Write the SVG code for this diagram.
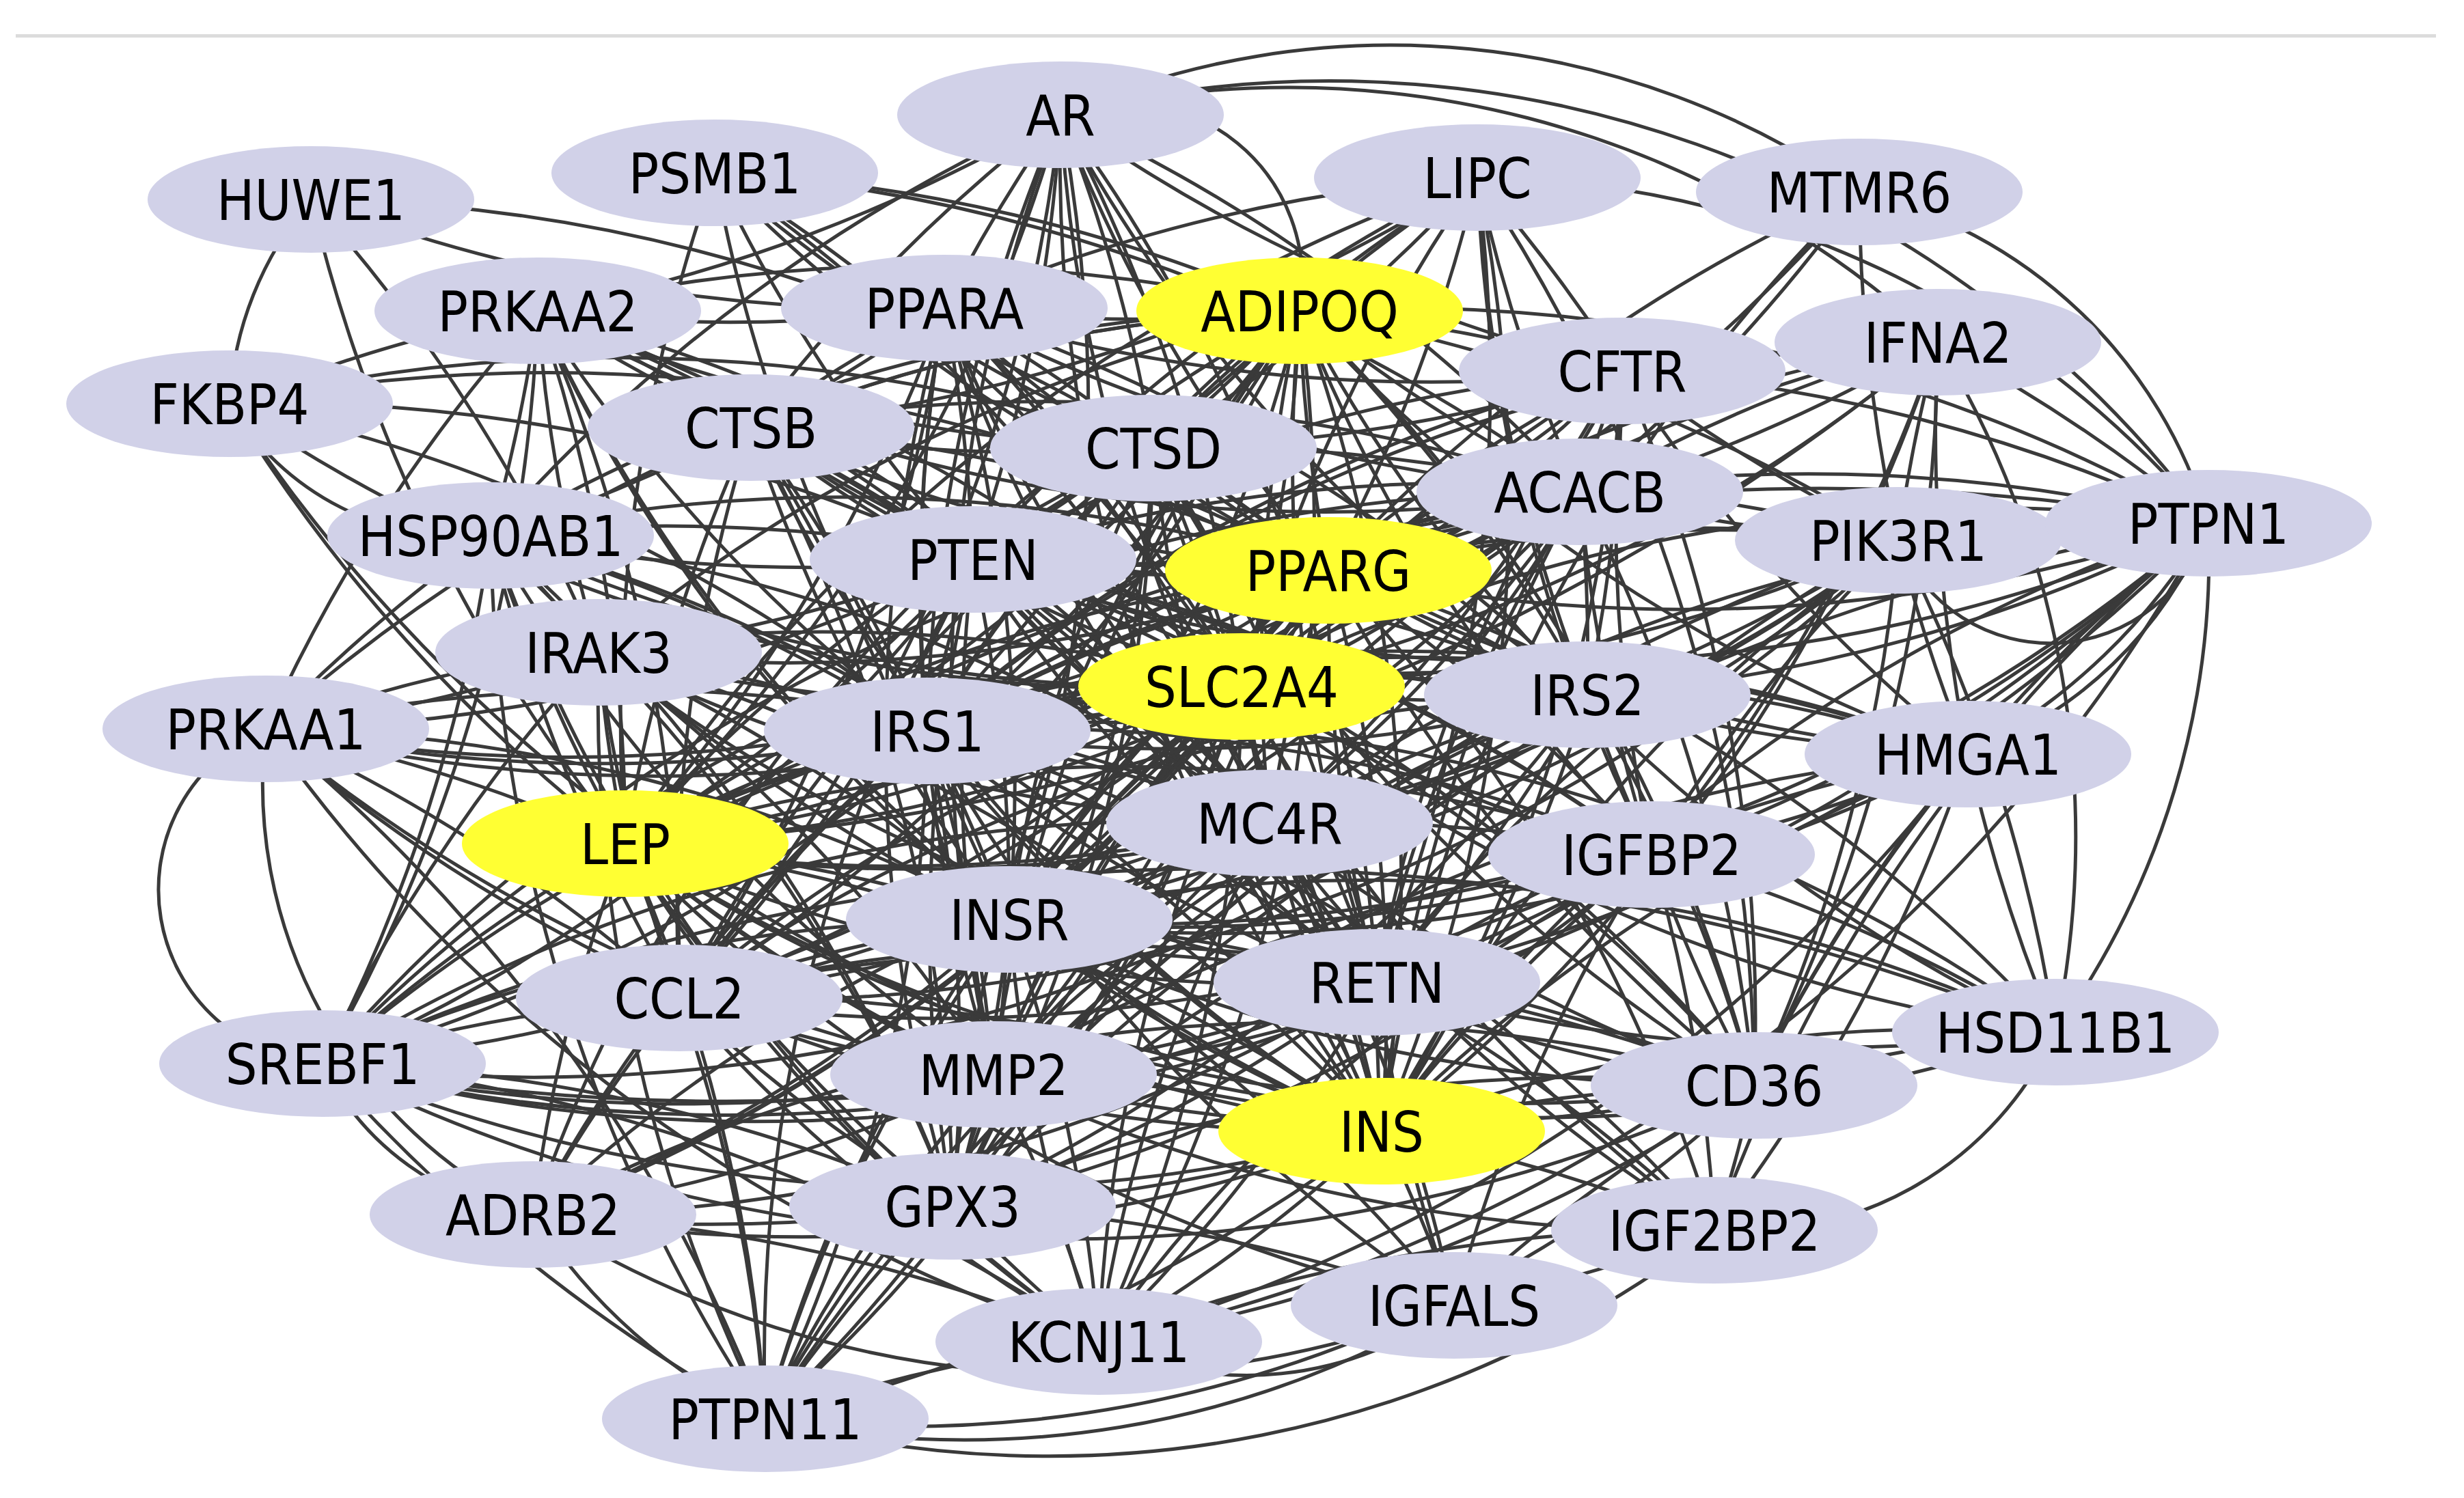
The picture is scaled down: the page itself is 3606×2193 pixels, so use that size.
<svg xmlns="http://www.w3.org/2000/svg" width="3606" height="2193" viewBox="0 0 3606 2193">
<style>
#edges path{fill:none;stroke:#3a3a3a;stroke-width:5}
.n ellipse{fill:#d1d1e8}
.y ellipse{fill:#ffff33}
text{font-family:"DejaVu Sans Condensed","Liberation Sans Narrow","Liberation Sans",sans-serif;font-size:82px;fill:#000;text-anchor:middle}
</style>
<rect width="3606" height="2193" fill="#fff"/>
<rect x="23" y="50" width="3542" height="5" fill="#dcdcdc"/>
<g id="edges">
<path d="M1382 451A2400 2400 0 0 0 1902 455"/>
<path d="M1382 451A2400 2400 0 0 1 1688 656"/>
<path d="M1382 451A2400 2400 0 0 0 1099 626"/>
<path d="M1382 451A2400 2400 0 0 1 1424 819"/>
<path d="M1382 451A2400 2400 0 0 0 1944 835"/>
<path d="M1382 451A2400 2400 0 0 1 1817 1005"/>
<path d="M1382 451A2400 2400 0 0 0 1357 1070"/>
<path d="M1382 451A2400 2400 0 0 1 915 1235"/>
<path d="M1382 451A2400 2400 0 0 0 1858 1205"/>
<path d="M1382 451A2400 2400 0 0 1 1477 1346"/>
<path d="M1382 451A2400 2400 0 0 0 2015 1438"/>
<path d="M1382 451A2400 2400 0 0 1 994 1461"/>
<path d="M1382 451A2400 2400 0 0 0 1454 1573"/>
<path d="M1382 451A2400 2400 0 0 1 2022 1656"/>
<path d="M1382 451A2400 2400 0 0 0 1394 1766"/>
<path d="M1382 451A2400 2400 0 0 1 2323 1017"/>
<path d="M1382 451A2400 2400 0 0 0 2312 720"/>
<path d="M1902 455A2400 2400 0 0 1 1688 656"/>
<path d="M1902 455A2400 2400 0 0 0 1099 626"/>
<path d="M1902 455A2400 2400 0 0 1 1424 819"/>
<path d="M1902 455A2400 2400 0 0 0 1944 835"/>
<path d="M1902 455A2400 2400 0 0 1 1817 1005"/>
<path d="M1902 455A2400 2400 0 0 0 1357 1070"/>
<path d="M1902 455A2400 2400 0 0 1 915 1235"/>
<path d="M1902 455A2400 2400 0 0 0 1858 1205"/>
<path d="M1902 455A2400 2400 0 0 1 1477 1346"/>
<path d="M1902 455A2400 2400 0 0 0 2015 1438"/>
<path d="M1902 455A2400 2400 0 0 1 994 1461"/>
<path d="M1902 455A2400 2400 0 0 0 1454 1573"/>
<path d="M1902 455A2400 2400 0 0 1 2022 1656"/>
<path d="M1902 455A2400 2400 0 0 0 1394 1766"/>
<path d="M1902 455A2400 2400 0 0 1 2323 1017"/>
<path d="M1902 455A2400 2400 0 0 0 2312 720"/>
<path d="M1688 656A2400 2400 0 0 1 1099 626"/>
<path d="M1688 656A2400 2400 0 0 0 1424 819"/>
<path d="M1688 656A2400 2400 0 0 1 1944 835"/>
<path d="M1688 656A2400 2400 0 0 0 1817 1005"/>
<path d="M1688 656A2400 2400 0 0 1 1357 1070"/>
<path d="M1688 656A2400 2400 0 0 0 915 1235"/>
<path d="M1688 656A2400 2400 0 0 1 1858 1205"/>
<path d="M1688 656A2400 2400 0 0 0 1477 1346"/>
<path d="M1688 656A2400 2400 0 0 1 2015 1438"/>
<path d="M1688 656A2400 2400 0 0 0 994 1461"/>
<path d="M1688 656A2400 2400 0 0 1 1454 1573"/>
<path d="M1688 656A2400 2400 0 0 0 2022 1656"/>
<path d="M1688 656A2400 2400 0 0 1 1394 1766"/>
<path d="M1688 656A2400 2400 0 0 0 2323 1017"/>
<path d="M1688 656A2400 2400 0 0 1 2312 720"/>
<path d="M1099 626A2400 2400 0 0 0 1424 819"/>
<path d="M1099 626A2400 2400 0 0 1 1944 835"/>
<path d="M1099 626A2400 2400 0 0 0 1817 1005"/>
<path d="M1099 626A2400 2400 0 0 1 1357 1070"/>
<path d="M1099 626A2400 2400 0 0 0 915 1235"/>
<path d="M1099 626A2400 2400 0 0 1 1858 1205"/>
<path d="M1099 626A2400 2400 0 0 0 1477 1346"/>
<path d="M1099 626A2400 2400 0 0 1 2015 1438"/>
<path d="M1099 626A2400 2400 0 0 0 994 1461"/>
<path d="M1099 626A2400 2400 0 0 1 1454 1573"/>
<path d="M1099 626A2400 2400 0 0 0 2022 1656"/>
<path d="M1099 626A2400 2400 0 0 1 1394 1766"/>
<path d="M1099 626A2400 2400 0 0 0 2323 1017"/>
<path d="M1099 626A2400 2400 0 0 1 2312 720"/>
<path d="M1424 819A2400 2400 0 0 0 1944 835"/>
<path d="M1424 819A2400 2400 0 0 1 1817 1005"/>
<path d="M1424 819A2400 2400 0 0 0 1357 1070"/>
<path d="M1424 819A2400 2400 0 0 1 915 1235"/>
<path d="M1424 819A2400 2400 0 0 0 1858 1205"/>
<path d="M1424 819A2400 2400 0 0 1 1477 1346"/>
<path d="M1424 819A2400 2400 0 0 0 2015 1438"/>
<path d="M1424 819A2400 2400 0 0 1 994 1461"/>
<path d="M1424 819A2400 2400 0 0 0 1454 1573"/>
<path d="M1424 819A2400 2400 0 0 1 2022 1656"/>
<path d="M1424 819A2400 2400 0 0 0 1394 1766"/>
<path d="M1424 819A2400 2400 0 0 1 2323 1017"/>
<path d="M1424 819A2400 2400 0 0 0 2312 720"/>
<path d="M1944 835A2400 2400 0 0 1 1817 1005"/>
<path d="M1944 835A2400 2400 0 0 0 1357 1070"/>
<path d="M1944 835A2400 2400 0 0 1 915 1235"/>
<path d="M1944 835A2400 2400 0 0 0 1858 1205"/>
<path d="M1944 835A2400 2400 0 0 1 1477 1346"/>
<path d="M1944 835A2400 2400 0 0 0 2015 1438"/>
<path d="M1944 835A2400 2400 0 0 1 994 1461"/>
<path d="M1944 835A2400 2400 0 0 0 1454 1573"/>
<path d="M1944 835A2400 2400 0 0 1 2022 1656"/>
<path d="M1944 835A2400 2400 0 0 0 1394 1766"/>
<path d="M1944 835A2400 2400 0 0 1 2323 1017"/>
<path d="M1944 835A2400 2400 0 0 0 2312 720"/>
<path d="M1817 1005A2400 2400 0 0 1 1357 1070"/>
<path d="M1817 1005A2400 2400 0 0 0 915 1235"/>
<path d="M1817 1005A2400 2400 0 0 1 1858 1205"/>
<path d="M1817 1005A2400 2400 0 0 0 1477 1346"/>
<path d="M1817 1005A2400 2400 0 0 1 2015 1438"/>
<path d="M1817 1005A2400 2400 0 0 0 994 1461"/>
<path d="M1817 1005A2400 2400 0 0 1 1454 1573"/>
<path d="M1817 1005A2400 2400 0 0 0 2022 1656"/>
<path d="M1817 1005A2400 2400 0 0 1 1394 1766"/>
<path d="M1817 1005A2400 2400 0 0 0 2323 1017"/>
<path d="M1817 1005A2400 2400 0 0 1 2312 720"/>
<path d="M1357 1070A2400 2400 0 0 0 915 1235"/>
<path d="M1357 1070A2400 2400 0 0 1 1858 1205"/>
<path d="M1357 1070A2400 2400 0 0 0 1477 1346"/>
<path d="M1357 1070A2400 2400 0 0 1 2015 1438"/>
<path d="M1357 1070A2400 2400 0 0 0 994 1461"/>
<path d="M1357 1070A2400 2400 0 0 1 1454 1573"/>
<path d="M1357 1070A2400 2400 0 0 0 2022 1656"/>
<path d="M1357 1070A2400 2400 0 0 1 1394 1766"/>
<path d="M1357 1070A2400 2400 0 0 0 2323 1017"/>
<path d="M1357 1070A2400 2400 0 0 1 2312 720"/>
<path d="M915 1235A2400 2400 0 0 0 1858 1205"/>
<path d="M915 1235A2400 2400 0 0 1 1477 1346"/>
<path d="M915 1235A2400 2400 0 0 0 2015 1438"/>
<path d="M915 1235A2400 2400 0 0 1 994 1461"/>
<path d="M915 1235A2400 2400 0 0 0 1454 1573"/>
<path d="M915 1235A2400 2400 0 0 1 2022 1656"/>
<path d="M915 1235A2400 2400 0 0 0 1394 1766"/>
<path d="M915 1235A2400 2400 0 0 1 2323 1017"/>
<path d="M915 1235A2400 2400 0 0 0 2312 720"/>
<path d="M1858 1205A2400 2400 0 0 1 1477 1346"/>
<path d="M1858 1205A2400 2400 0 0 0 2015 1438"/>
<path d="M1858 1205A2400 2400 0 0 1 994 1461"/>
<path d="M1858 1205A2400 2400 0 0 0 1454 1573"/>
<path d="M1858 1205A2400 2400 0 0 1 2022 1656"/>
<path d="M1858 1205A2400 2400 0 0 0 1394 1766"/>
<path d="M1858 1205A2400 2400 0 0 1 2323 1017"/>
<path d="M1858 1205A2400 2400 0 0 0 2312 720"/>
<path d="M1477 1346A2400 2400 0 0 1 2015 1438"/>
<path d="M1477 1346A2400 2400 0 0 0 994 1461"/>
<path d="M1477 1346A2400 2400 0 0 1 1454 1573"/>
<path d="M1477 1346A2400 2400 0 0 0 2022 1656"/>
<path d="M1477 1346A2400 2400 0 0 1 1394 1766"/>
<path d="M1477 1346A2400 2400 0 0 0 2323 1017"/>
<path d="M1477 1346A2400 2400 0 0 1 2312 720"/>
<path d="M2015 1438A2400 2400 0 0 0 994 1461"/>
<path d="M2015 1438A2400 2400 0 0 1 1454 1573"/>
<path d="M2015 1438A2400 2400 0 0 0 2022 1656"/>
<path d="M2015 1438A2400 2400 0 0 1 1394 1766"/>
<path d="M2015 1438A2400 2400 0 0 0 2323 1017"/>
<path d="M2015 1438A2400 2400 0 0 1 2312 720"/>
<path d="M994 1461A2400 2400 0 0 0 1454 1573"/>
<path d="M994 1461A2400 2400 0 0 1 2022 1656"/>
<path d="M994 1461A2400 2400 0 0 0 1394 1766"/>
<path d="M994 1461A2400 2400 0 0 1 2323 1017"/>
<path d="M994 1461A2400 2400 0 0 0 2312 720"/>
<path d="M1454 1573A2400 2400 0 0 1 2022 1656"/>
<path d="M1454 1573A2400 2400 0 0 0 1394 1766"/>
<path d="M1454 1573A2400 2400 0 0 1 2323 1017"/>
<path d="M1454 1573A2400 2400 0 0 0 2312 720"/>
<path d="M2022 1656A2400 2400 0 0 1 1394 1766"/>
<path d="M2022 1656A2400 2400 0 0 0 2323 1017"/>
<path d="M2022 1656A2400 2400 0 0 1 2312 720"/>
<path d="M1394 1766A2400 2400 0 0 0 2323 1017"/>
<path d="M1394 1766A2400 2400 0 0 1 2312 720"/>
<path d="M2323 1017A2400 2400 0 0 0 2312 720"/>
<path d="M1552 168A2400 2400 0 0 0 1382 451"/>
<path d="M1552 168A2400 2400 0 0 1 1688 656"/>
<path d="M1552 168A2400 2400 0 0 0 1099 626"/>
<path d="M1552 168A2400 2400 0 0 1 1424 819"/>
<path d="M1552 168A2400 2400 0 0 0 1944 835"/>
<path d="M1552 168A2400 2400 0 0 1 1817 1005"/>
<path d="M1552 168A2400 2400 0 0 0 1357 1070"/>
<path d="M1552 168A2400 2400 0 0 1 915 1235"/>
<path d="M1552 168A2400 2400 0 0 0 2022 1656"/>
<path d="M1552 168A2400 2400 0 0 1 1477 1346"/>
<path d="M1552 168A2400 2400 0 0 0 1858 1205"/>
<path d="M1552 168A2400 2400 0 0 1 2015 1438"/>
<path d="M1552 168A2400 2400 0 0 0 2323 1017"/>
<path d="M1552 168A2400 2400 0 0 1 2312 720"/>
<path d="M1552 168A2400 2400 0 0 0 2374 543"/>
<path d="M1552 168A2400 2400 0 0 1 787 455"/>
<path d="M1552 168A2400 2400 0 0 0 718 784"/>
<path d="M1552 168A2400 2400 0 0 1 994 1461"/>
<path d="M1552 168A2400 2400 0 0 0 1454 1573"/>
<path d="M1552 168A260 260 0 0 1 1902 455"/>
<path d="M1552 168A1200 1200 0 0 1 2721 281"/>
<path d="M1552 168A1600 1600 0 0 1 3232 766"/>
<path d="M1552 168A1400 1400 0 0 1 2836 501"/>
<path d="M455 292A500 500 0 0 0 336 591"/>
<path d="M455 292A2400 2400 0 0 0 1382 451"/>
<path d="M455 292A2400 2400 0 0 1 876 955"/>
<path d="M455 292A2400 2400 0 0 0 915 1235"/>
<path d="M455 292A2400 2400 0 0 1 1944 835"/>
<path d="M1046 253A2400 2400 0 0 0 1944 835"/>
<path d="M1046 253A2400 2400 0 0 1 2022 1656"/>
<path d="M1046 253A2400 2400 0 0 0 1357 1070"/>
<path d="M1046 253A2400 2400 0 0 1 1817 1005"/>
<path d="M1046 253A2400 2400 0 0 0 1688 656"/>
<path d="M1046 253A2400 2400 0 0 1 1902 455"/>
<path d="M1046 253A2400 2400 0 0 0 1858 1205"/>
<path d="M1046 253A2400 2400 0 0 1 2312 720"/>
<path d="M1046 253A2400 2400 0 0 0 915 1235"/>
<path d="M2162 260A2400 2400 0 0 0 1902 455"/>
<path d="M2162 260A2400 2400 0 0 1 1944 835"/>
<path d="M2162 260A2400 2400 0 0 0 1817 1005"/>
<path d="M2162 260A2400 2400 0 0 1 2022 1656"/>
<path d="M2162 260A2400 2400 0 0 0 2312 720"/>
<path d="M2162 260A2400 2400 0 0 1 2374 543"/>
<path d="M2162 260A2400 2400 0 0 0 2323 1017"/>
<path d="M2162 260A2400 2400 0 0 1 2567 1589"/>
<path d="M2162 260A2400 2400 0 0 0 915 1235"/>
<path d="M2162 260A1400 1400 0 0 1 3232 766"/>
<path d="M2162 260A2400 2400 0 0 0 1382 451"/>
<path d="M2162 260A2400 2400 0 0 1 1688 656"/>
<path d="M2162 260A2400 2400 0 0 0 2417 1251"/>
<path d="M2162 260A2400 2400 0 0 1 2015 1438"/>
<path d="M2162 260A2400 2400 0 0 0 1424 819"/>
<path d="M2162 260A2400 2400 0 0 1 1099 626"/>
<path d="M2162 260A2400 2400 0 0 0 1357 1070"/>
<path d="M2721 281A2400 2400 0 0 0 2778 791"/>
<path d="M2721 281A2400 2400 0 0 1 2312 720"/>
<path d="M2721 281A700 700 0 0 1 3232 766"/>
<path d="M2721 281A2400 2400 0 0 0 2022 1656"/>
<path d="M2721 281A2400 2400 0 0 1 1357 1070"/>
<path d="M2721 281A2400 2400 0 0 0 1944 835"/>
<path d="M787 455A2400 2400 0 0 0 1382 451"/>
<path d="M787 455A2400 2400 0 0 1 1902 455"/>
<path d="M787 455A2400 2400 0 0 0 1944 835"/>
<path d="M787 455A2400 2400 0 0 1 1817 1005"/>
<path d="M787 455A2400 2400 0 0 0 1357 1070"/>
<path d="M787 455A2400 2400 0 0 1 915 1235"/>
<path d="M787 455A2400 2400 0 0 0 2022 1656"/>
<path d="M787 455A2400 2400 0 0 1 1099 626"/>
<path d="M787 455A2400 2400 0 0 0 1688 656"/>
<path d="M787 455A2400 2400 0 0 1 1424 819"/>
<path d="M787 455A2400 2400 0 0 0 1477 1346"/>
<path d="M787 455A2400 2400 0 0 1 1858 1205"/>
<path d="M787 455A2400 2400 0 0 0 389 1067"/>
<path d="M787 455A2400 2400 0 0 1 472 1557"/>
<path d="M787 455A2400 2400 0 0 0 2312 720"/>
<path d="M787 455A2400 2400 0 0 1 718 784"/>
<path d="M787 455A2400 2400 0 0 0 876 955"/>
<path d="M787 455A2400 2400 0 0 1 994 1461"/>
<path d="M787 455A2400 2400 0 0 0 336 591"/>
<path d="M2374 543A2400 2400 0 0 0 1902 455"/>
<path d="M2374 543A2400 2400 0 0 1 1944 835"/>
<path d="M2374 543A2400 2400 0 0 0 1817 1005"/>
<path d="M2374 543A2400 2400 0 0 1 2022 1656"/>
<path d="M2374 543A2400 2400 0 0 0 1357 1070"/>
<path d="M2374 543A2400 2400 0 0 1 915 1235"/>
<path d="M2374 543A2400 2400 0 0 0 1424 819"/>
<path d="M2374 543A2400 2400 0 0 1 1688 656"/>
<path d="M2374 543A2400 2400 0 0 0 2312 720"/>
<path d="M2374 543A2400 2400 0 0 1 2323 1017"/>
<path d="M2374 543A2400 2400 0 0 0 2778 791"/>
<path d="M2374 543A2400 2400 0 0 1 3232 766"/>
<path d="M2374 543A2400 2400 0 0 0 2417 1251"/>
<path d="M2374 543A2400 2400 0 0 1 2567 1589"/>
<path d="M2374 543A2400 2400 0 0 0 1477 1346"/>
<path d="M2374 543A2400 2400 0 0 1 1858 1205"/>
<path d="M2374 543A2400 2400 0 0 0 2015 1438"/>
<path d="M2374 543A2400 2400 0 0 1 1382 451"/>
<path d="M2374 543A2400 2400 0 0 0 2880 1104"/>
<path d="M2836 501A2400 2400 0 0 1 3232 766"/>
<path d="M2836 501A2400 2400 0 0 0 2778 791"/>
<path d="M2836 501A2400 2400 0 0 1 2022 1656"/>
<path d="M2836 501A2400 2400 0 0 0 1357 1070"/>
<path d="M2836 501A2400 2400 0 0 1 1817 1005"/>
<path d="M2836 501A2400 2400 0 0 0 1944 835"/>
<path d="M2836 501A3200 3200 0 0 1 915 1235"/>
<path d="M2836 501A2400 2400 0 0 0 2312 720"/>
<path d="M2836 501A2400 2400 0 0 1 2567 1589"/>
<path d="M2836 501A2400 2400 0 0 0 2880 1104"/>
<path d="M2836 501A2400 2400 0 0 1 2417 1251"/>
<path d="M2836 501A2400 2400 0 0 0 1477 1346"/>
<path d="M2836 501A2400 2400 0 0 1 1424 819"/>
<path d="M2836 501A1400 1400 0 0 1 3008 1511"/>
<path d="M336 591A400 400 0 0 0 718 784"/>
<path d="M336 591A2400 2400 0 0 1 1944 835"/>
<path d="M336 591A2400 2400 0 0 0 1817 1005"/>
<path d="M336 591A2400 2400 0 0 1 1357 1070"/>
<path d="M336 591A2400 2400 0 0 0 2022 1656"/>
<path d="M336 591A2400 2400 0 0 1 1688 656"/>
<path d="M336 591A2400 2400 0 0 0 915 1235"/>
<path d="M336 591A2400 2400 0 0 1 1424 819"/>
<path d="M718 784A2400 2400 0 0 0 1382 451"/>
<path d="M718 784A2400 2400 0 0 1 1902 455"/>
<path d="M718 784A2400 2400 0 0 0 1424 819"/>
<path d="M718 784A2400 2400 0 0 1 1944 835"/>
<path d="M718 784A2400 2400 0 0 0 1817 1005"/>
<path d="M718 784A2400 2400 0 0 1 1357 1070"/>
<path d="M718 784A2400 2400 0 0 0 915 1235"/>
<path d="M718 784A2400 2400 0 0 1 2022 1656"/>
<path d="M718 784A2400 2400 0 0 0 1477 1346"/>
<path d="M718 784A2400 2400 0 0 1 1858 1205"/>
<path d="M718 784A2400 2400 0 0 0 994 1461"/>
<path d="M718 784A2400 2400 0 0 1 472 1557"/>
<path d="M718 784A2400 2400 0 0 0 389 1067"/>
<path d="M718 784A2400 2400 0 0 1 876 955"/>
<path d="M718 784A2400 2400 0 0 0 1454 1573"/>
<path d="M718 784A2400 2400 0 0 1 2417 1251"/>
<path d="M718 784A2400 2400 0 0 0 1120 2077"/>
<path d="M718 784A2400 2400 0 0 1 1394 1766"/>
<path d="M718 784A2400 2400 0 0 0 1608 1964"/>
<path d="M2778 791A2400 2400 0 0 0 1357 1070"/>
<path d="M2778 791A2400 2400 0 0 1 2323 1017"/>
<path d="M2778 791A2400 2400 0 0 0 2022 1656"/>
<path d="M2778 791A2400 2400 0 0 1 1477 1346"/>
<path d="M2778 791A2400 2400 0 0 0 1424 819"/>
<path d="M2778 791A2400 2400 0 0 1 1817 1005"/>
<path d="M2778 791A2400 2400 0 0 0 1944 835"/>
<path d="M2778 791A2400 2400 0 0 1 915 1235"/>
<path d="M2778 791A2400 2400 0 0 0 1902 455"/>
<path d="M2778 791A240 240 0 0 0 3232 766"/>
<path d="M2778 791A2400 2400 0 0 1 2312 720"/>
<path d="M2778 791A2400 2400 0 0 0 2417 1251"/>
<path d="M2778 791A2400 2400 0 0 1 2567 1589"/>
<path d="M2778 791A2400 2400 0 0 0 2880 1104"/>
<path d="M2778 791A2400 2400 0 0 1 3008 1511"/>
<path d="M2778 791A2400 2400 0 0 0 2015 1438"/>
<path d="M2778 791A2400 2400 0 0 1 1858 1205"/>
<path d="M2778 791A3200 3200 0 0 0 1120 2077"/>
<path d="M2778 791A2400 2400 0 0 1 994 1461"/>
<path d="M3232 766A2400 2400 0 0 0 2022 1656"/>
<path d="M3232 766A2400 2400 0 0 1 1477 1346"/>
<path d="M3232 766A2400 2400 0 0 0 1357 1070"/>
<path d="M3232 766A2400 2400 0 0 1 2323 1017"/>
<path d="M3232 766A3200 3200 0 0 0 915 1235"/>
<path d="M3232 766A2400 2400 0 0 1 1424 819"/>
<path d="M3232 766A2400 2400 0 0 0 1817 1005"/>
<path d="M3232 766A2400 2400 0 0 1 1944 835"/>
<path d="M3232 766A2400 2400 0 0 0 1902 455"/>
<path d="M3232 766A2400 2400 0 0 1 2417 1251"/>
<path d="M3232 766A2400 2400 0 0 0 2567 1589"/>
<path d="M3232 766A600 600 0 0 1 2880 1104"/>
<path d="M3232 766A900 900 0 0 1 2880 1104"/>
<path d="M3232 766A2400 2400 0 0 0 2509 1801"/>
<path d="M3232 766A1200 1200 0 0 1 3008 1511"/>
<path d="M3232 766A3200 3200 0 0 1 472 1557"/>
<path d="M3232 766A3200 3200 0 0 0 1120 2077"/>
<path d="M3232 766A2400 2400 0 0 1 1608 1964"/>
<path d="M3232 766A2400 2400 0 0 0 1858 1205"/>
<path d="M3232 766A2400 2400 0 0 1 2015 1438"/>
<path d="M876 955A2400 2400 0 0 0 915 1235"/>
<path d="M876 955A2400 2400 0 0 1 2022 1656"/>
<path d="M876 955A2400 2400 0 0 0 1944 835"/>
<path d="M876 955A2400 2400 0 0 1 1357 1070"/>
<path d="M876 955A2400 2400 0 0 0 1817 1005"/>
<path d="M876 955A2400 2400 0 0 1 1902 455"/>
<path d="M876 955A2400 2400 0 0 0 994 1461"/>
<path d="M876 955A2400 2400 0 0 1 1454 1573"/>
<path d="M876 955A2400 2400 0 0 0 1424 819"/>
<path d="M876 955A2400 2400 0 0 1 1477 1346"/>
<path d="M876 955A2400 2400 0 0 0 2015 1438"/>
<path d="M876 955A2400 2400 0 0 1 389 1067"/>
<path d="M876 955A2400 2400 0 0 0 472 1557"/>
<path d="M876 955A2400 2400 0 0 1 1394 1766"/>
<path d="M876 955A2400 2400 0 0 0 1858 1205"/>
<path d="M389 1067A2400 2400 0 0 0 2312 720"/>
<path d="M389 1067A255 255 0 0 0 472 1557"/>
<path d="M389 1067A2400 2400 0 0 1 915 1235"/>
<path d="M389 1067A2400 2400 0 0 0 2022 1656"/>
<path d="M389 1067A2400 2400 0 0 1 1902 455"/>
<path d="M389 1067A2400 2400 0 0 0 1944 835"/>
<path d="M389 1067A2400 2400 0 0 1 1817 1005"/>
<path d="M389 1067A2400 2400 0 0 0 1357 1070"/>
<path d="M389 1067A2400 2400 0 0 1 1477 1346"/>
<path d="M389 1067A2400 2400 0 0 0 1424 819"/>
<path d="M389 1067A2400 2400 0 0 1 994 1461"/>
<path d="M389 1067A2400 2400 0 0 0 1454 1573"/>
<path d="M389 1067A2400 2400 0 0 1 1858 1205"/>
<path d="M389 1067A700 700 0 0 0 780 1778"/>
<path d="M389 1067A2400 2400 0 0 1 1120 2077"/>
<path d="M389 1067A2400 2400 0 0 0 1608 1964"/>
<path d="M2880 1104A2400 2400 0 0 0 2022 1656"/>
<path d="M2880 1104A2400 2400 0 0 1 1477 1346"/>
<path d="M2880 1104A2400 2400 0 0 0 1357 1070"/>
<path d="M2880 1104A2400 2400 0 0 1 2323 1017"/>
<path d="M2880 1104A2400 2400 0 0 0 915 1235"/>
<path d="M2880 1104A2400 2400 0 0 1 1944 835"/>
<path d="M2880 1104A2400 2400 0 0 0 1817 1005"/>
<path d="M2880 1104A2400 2400 0 0 1 2417 1251"/>
<path d="M2880 1104A2400 2400 0 0 0 2567 1589"/>
<path d="M2880 1104A2400 2400 0 0 1 2509 1801"/>
<path d="M2880 1104A2400 2400 0 0 0 3008 1511"/>
<path d="M2880 1104A2400 2400 0 0 1 1902 455"/>
<path d="M2880 1104A2400 2400 0 0 0 2015 1438"/>
<path d="M2880 1104A2400 2400 0 0 1 1608 1964"/>
<path d="M2880 1104A2400 2400 0 0 0 1394 1766"/>
<path d="M2417 1251A2400 2400 0 0 0 2128 1911"/>
<path d="M2417 1251A2400 2400 0 0 1 2509 1801"/>
<path d="M2417 1251A2400 2400 0 0 0 2567 1589"/>
<path d="M2417 1251A2400 2400 0 0 1 3008 1511"/>
<path d="M2417 1251A2400 2400 0 0 0 1608 1964"/>
<path d="M2417 1251A2400 2400 0 0 1 472 1557"/>
<path d="M2417 1251A2400 2400 0 0 0 2022 1656"/>
<path d="M2417 1251A2400 2400 0 0 1 1477 1346"/>
<path d="M2417 1251A2400 2400 0 0 0 1357 1070"/>
<path d="M2417 1251A2400 2400 0 0 1 2323 1017"/>
<path d="M2417 1251A2400 2400 0 0 0 915 1235"/>
<path d="M2417 1251A2400 2400 0 0 1 2015 1438"/>
<path d="M2417 1251A2400 2400 0 0 0 1944 835"/>
<path d="M2417 1251A2400 2400 0 0 1 1817 1005"/>
<path d="M2417 1251A2400 2400 0 0 0 1858 1205"/>
<path d="M2417 1251A2400 2400 0 0 1 1902 455"/>
<path d="M2417 1251A2400 2400 0 0 0 1424 819"/>
<path d="M2417 1251A2400 2400 0 0 1 1394 1766"/>
<path d="M2417 1251A2400 2400 0 0 0 1454 1573"/>
<path d="M2417 1251A2400 2400 0 0 1 994 1461"/>
<path d="M3008 1511A2400 2400 0 0 0 2022 1656"/>
<path d="M3008 1511A2400 2400 0 0 1 915 1235"/>
<path d="M3008 1511A2400 2400 0 0 0 1944 835"/>
<path d="M3008 1511A2400 2400 0 0 1 1902 455"/>
<path d="M3008 1511A2400 2400 0 0 0 2567 1589"/>
<path d="M3008 1511A500 500 0 0 1 2509 1801"/>
<path d="M3008 1511A3200 3200 0 0 0 472 1557"/>
<path d="M3008 1511A2400 2400 0 0 1 2015 1438"/>
<path d="M3008 1511A2400 2400 0 0 0 1357 1070"/>
<path d="M3008 1511A2400 2400 0 0 1 1817 1005"/>
<path d="M3008 1511A2400 2400 0 0 0 1477 1346"/>
<path d="M472 1557A2400 2400 0 0 0 2022 1656"/>
<path d="M472 1557A2400 2400 0 0 1 915 1235"/>
<path d="M472 1557A2400 2400 0 0 0 1902 455"/>
<path d="M472 1557A2400 2400 0 0 1 1944 835"/>
<path d="M472 1557A2400 2400 0 0 0 1817 1005"/>
<path d="M472 1557A2400 2400 0 0 1 1357 1070"/>
<path d="M472 1557A2400 2400 0 0 0 2323 1017"/>
<path d="M472 1557A2400 2400 0 0 1 1477 1346"/>
<path d="M472 1557A2400 2400 0 0 0 1424 819"/>
<path d="M472 1557A2400 2400 0 0 1 1858 1205"/>
<path d="M472 1557A2400 2400 0 0 0 2015 1438"/>
<path d="M472 1557A2400 2400 0 0 1 994 1461"/>
<path d="M472 1557A2400 2400 0 0 0 1454 1573"/>
<path d="M472 1557A2400 2400 0 0 1 1394 1766"/>
<path d="M472 1557A2400 2400 0 0 0 2567 1589"/>
<path d="M472 1557A2400 2400 0 0 1 2312 720"/>
<path d="M472 1557A2400 2400 0 0 0 1120 2077"/>
<path d="M472 1557A400 400 0 0 0 780 1778"/>
<path d="M472 1557A2400 2400 0 0 1 1608 1964"/>
<path d="M2567 1589A2400 2400 0 0 0 2022 1656"/>
<path d="M2567 1589A2400 2400 0 0 1 915 1235"/>
<path d="M2567 1589A2400 2400 0 0 0 1902 455"/>
<path d="M2567 1589A2400 2400 0 0 1 1944 835"/>
<path d="M2567 1589A2400 2400 0 0 0 1817 1005"/>
<path d="M2567 1589A2400 2400 0 0 1 1357 1070"/>
<path d="M2567 1589A2400 2400 0 0 0 2323 1017"/>
<path d="M2567 1589A2400 2400 0 0 1 1477 1346"/>
<path d="M2567 1589A2400 2400 0 0 0 2015 1438"/>
<path d="M2567 1589A2400 2400 0 0 1 1858 1205"/>
<path d="M2567 1589A2400 2400 0 0 0 994 1461"/>
<path d="M2567 1589A2400 2400 0 0 1 1454 1573"/>
<path d="M2567 1589A2400 2400 0 0 0 1394 1766"/>
<path d="M2567 1589A2400 2400 0 0 1 2509 1801"/>
<path d="M2567 1589A2400 2400 0 0 0 2128 1911"/>
<path d="M2567 1589A2400 2400 0 0 1 1608 1964"/>
<path d="M2567 1589A2400 2400 0 0 0 1424 819"/>
<path d="M2567 1589A2400 2400 0 0 1 1688 656"/>
<path d="M780 1778A2400 2400 0 0 0 2022 1656"/>
<path d="M780 1778A2400 2400 0 0 1 915 1235"/>
<path d="M780 1778A2400 2400 0 0 0 1944 835"/>
<path d="M780 1778A2400 2400 0 0 1 1902 455"/>
<path d="M780 1778A2400 2400 0 0 0 1817 1005"/>
<path d="M780 1778A2400 2400 0 0 1 1357 1070"/>
<path d="M780 1778A2400 2400 0 0 0 1477 1346"/>
<path d="M780 1778A2400 2400 0 0 1 1858 1205"/>
<path d="M780 1778A2400 2400 0 0 0 2015 1438"/>
<path d="M780 1778A2400 2400 0 0 1 994 1461"/>
<path d="M780 1778A2400 2400 0 0 0 1394 1766"/>
<path d="M780 1778A2400 2400 0 0 1 1608 1964"/>
<path d="M780 1778A800 800 0 0 0 1120 2077"/>
<path d="M780 1778A2400 2400 0 0 0 1454 1573"/>
<path d="M780 1778A2400 2400 0 0 1 2567 1589"/>
<path d="M780 1778A1500 1500 0 0 0 2128 1911"/>
<path d="M2509 1801A2400 2400 0 0 0 2022 1656"/>
<path d="M2509 1801A2400 2400 0 0 1 2128 1911"/>
<path d="M2509 1801A2400 2400 0 0 0 1357 1070"/>
<path d="M2509 1801A2400 2400 0 0 1 915 1235"/>
<path d="M2509 1801A2400 2400 0 0 0 2015 1438"/>
<path d="M2509 1801A2400 2400 0 0 1 1858 1205"/>
<path d="M2509 1801A2400 2400 0 0 0 1608 1964"/>
<path d="M2509 1801A2400 2400 0 0 1 1817 1005"/>
<path d="M2509 1801A2400 2400 0 0 0 1944 835"/>
<path d="M2128 1911A2400 2400 0 0 0 2022 1656"/>
<path d="M2128 1911A2400 2400 0 0 1 2015 1438"/>
<path d="M2128 1911A2400 2400 0 0 0 1858 1205"/>
<path d="M2128 1911A2400 2400 0 0 1 915 1235"/>
<path d="M2128 1911A2400 2400 0 0 0 1477 1346"/>
<path d="M2128 1911A2400 2400 0 0 1 1357 1070"/>
<path d="M2128 1911A2400 2400 0 0 0 1394 1766"/>
<path d="M1608 1964A500 500 0 0 0 2128 1911"/>
<path d="M1120 2077A1400 1400 0 0 0 2128 1911"/>
<path d="M1608 1964A2400 2400 0 0 0 2022 1656"/>
<path d="M1608 1964A2400 2400 0 0 1 915 1235"/>
<path d="M1608 1964A2400 2400 0 0 0 1817 1005"/>
<path d="M1608 1964A2400 2400 0 0 1 1477 1346"/>
<path d="M1608 1964A2400 2400 0 0 0 1357 1070"/>
<path d="M1608 1964A2400 2400 0 0 1 1858 1205"/>
<path d="M1608 1964A2400 2400 0 0 0 2015 1438"/>
<path d="M1608 1964A2400 2400 0 0 1 1944 835"/>
<path d="M1608 1964A2400 2400 0 0 0 1902 455"/>
<path d="M1608 1964A2400 2400 0 0 1 1394 1766"/>
<path d="M1608 1964A2400 2400 0 0 0 1454 1573"/>
<path d="M1608 1964A2400 2400 0 0 1 994 1461"/>
<path d="M1608 1964A2400 2400 0 0 0 1120 2077"/>
<path d="M1120 2077A2400 2400 0 0 0 2022 1656"/>
<path d="M1120 2077A2400 2400 0 0 1 1477 1346"/>
<path d="M1120 2077A2400 2400 0 0 0 1357 1070"/>
<path d="M1120 2077A2400 2400 0 0 1 2323 1017"/>
<path d="M1120 2077A2400 2400 0 0 0 915 1235"/>
<path d="M1120 2077A2400 2400 0 0 1 1424 819"/>
<path d="M1120 2077A2400 2400 0 0 0 1817 1005"/>
<path d="M1120 2077A2400 2400 0 0 1 1944 835"/>
<path d="M1120 2077A2400 2400 0 0 0 1394 1766"/>
<path d="M1120 2077A2400 2400 0 0 1 1454 1573"/>
<path d="M1120 2077A2400 2400 0 0 0 994 1461"/>
<path d="M1120 2077A2400 2400 0 0 1 876 955"/>
<path d="M1120 2077A1600 1600 0 0 0 2509 1801"/>
<path d="M1120 2077A1800 1800 0 0 0 2567 1589"/>
<path d="M2312 720A2400 2400 0 0 0 2417 1251"/>
<path d="M2312 720A2400 2400 0 0 1 2567 1589"/>
</g>
<g id="n-AR" class="n"><ellipse cx="1552" cy="168" rx="239" ry="78"/><text x="1552" y="198">AR</text></g>
<g id="n-HUWE1" class="n"><ellipse cx="455" cy="292" rx="239" ry="78"/><text x="455" y="322">HUWE1</text></g>
<g id="n-PSMB1" class="n"><ellipse cx="1046" cy="253" rx="239" ry="78"/><text x="1046" y="283">PSMB1</text></g>
<g id="n-LIPC" class="n"><ellipse cx="2162" cy="260" rx="239" ry="78"/><text x="2162" y="290">LIPC</text></g>
<g id="n-MTMR6" class="n"><ellipse cx="2721" cy="281" rx="239" ry="78"/><text x="2721" y="311">MTMR6</text></g>
<g id="n-PRKAA2" class="n"><ellipse cx="787" cy="455" rx="239" ry="78"/><text x="787" y="485">PRKAA2</text></g>
<g id="n-PPARA" class="n"><ellipse cx="1382" cy="451" rx="239" ry="78"/><text x="1382" y="481">PPARA</text></g>
<g id="n-ADIPOQ" class="y"><ellipse cx="1902" cy="455" rx="239" ry="78"/><text x="1902" y="485">ADIPOQ</text></g>
<g id="n-CFTR" class="n"><ellipse cx="2374" cy="543" rx="239" ry="78"/><text x="2374" y="573">CFTR</text></g>
<g id="n-IFNA2" class="n"><ellipse cx="2836" cy="501" rx="239" ry="78"/><text x="2836" y="531">IFNA2</text></g>
<g id="n-FKBP4" class="n"><ellipse cx="336" cy="591" rx="239" ry="78"/><text x="336" y="621">FKBP4</text></g>
<g id="n-CTSB" class="n"><ellipse cx="1099" cy="626" rx="239" ry="78"/><text x="1099" y="656">CTSB</text></g>
<g id="n-CTSD" class="n"><ellipse cx="1688" cy="656" rx="239" ry="78"/><text x="1688" y="686">CTSD</text></g>
<g id="n-ACACB" class="n"><ellipse cx="2312" cy="720" rx="239" ry="78"/><text x="2312" y="750">ACACB</text></g>
<g id="n-PIK3R1" class="n"><ellipse cx="2778" cy="791" rx="239" ry="78"/><text x="2778" y="821">PIK3R1</text></g>
<g id="n-PTPN1" class="n"><ellipse cx="3232" cy="766" rx="239" ry="78"/><text x="3232" y="796">PTPN1</text></g>
<g id="n-HSP90AB1" class="n"><ellipse cx="718" cy="784" rx="239" ry="78"/><text x="718" y="814">HSP90AB1</text></g>
<g id="n-PTEN" class="n"><ellipse cx="1424" cy="819" rx="239" ry="78"/><text x="1424" y="849">PTEN</text></g>
<g id="n-PPARG" class="y"><ellipse cx="1944" cy="835" rx="239" ry="78"/><text x="1944" y="865">PPARG</text></g>
<g id="n-IRAK3" class="n"><ellipse cx="876" cy="955" rx="239" ry="78"/><text x="876" y="985">IRAK3</text></g>
<g id="n-SLC2A4" class="y"><ellipse cx="1817" cy="1005" rx="239" ry="78"/><text x="1817" y="1035">SLC2A4</text></g>
<g id="n-IRS2" class="n"><ellipse cx="2323" cy="1017" rx="239" ry="78"/><text x="2323" y="1047">IRS2</text></g>
<g id="n-PRKAA1" class="n"><ellipse cx="389" cy="1067" rx="239" ry="78"/><text x="389" y="1097">PRKAA1</text></g>
<g id="n-IRS1" class="n"><ellipse cx="1357" cy="1070" rx="239" ry="78"/><text x="1357" y="1100">IRS1</text></g>
<g id="n-HMGA1" class="n"><ellipse cx="2880" cy="1104" rx="239" ry="78"/><text x="2880" y="1134">HMGA1</text></g>
<g id="n-LEP" class="y"><ellipse cx="915" cy="1235" rx="239" ry="78"/><text x="915" y="1265">LEP</text></g>
<g id="n-MC4R" class="n"><ellipse cx="1858" cy="1205" rx="239" ry="78"/><text x="1858" y="1235">MC4R</text></g>
<g id="n-IGFBP2" class="n"><ellipse cx="2417" cy="1251" rx="239" ry="78"/><text x="2417" y="1281">IGFBP2</text></g>
<g id="n-INSR" class="n"><ellipse cx="1477" cy="1346" rx="239" ry="78"/><text x="1477" y="1376">INSR</text></g>
<g id="n-CCL2" class="n"><ellipse cx="994" cy="1461" rx="239" ry="78"/><text x="994" y="1491">CCL2</text></g>
<g id="n-RETN" class="n"><ellipse cx="2015" cy="1438" rx="239" ry="78"/><text x="2015" y="1468">RETN</text></g>
<g id="n-HSD11B1" class="n"><ellipse cx="3008" cy="1511" rx="239" ry="78"/><text x="3008" y="1541">HSD11B1</text></g>
<g id="n-SREBF1" class="n"><ellipse cx="472" cy="1557" rx="239" ry="78"/><text x="472" y="1587">SREBF1</text></g>
<g id="n-CD36" class="n"><ellipse cx="2567" cy="1589" rx="239" ry="78"/><text x="2567" y="1619">CD36</text></g>
<g id="n-MMP2" class="n"><ellipse cx="1454" cy="1573" rx="239" ry="78"/><text x="1454" y="1603">MMP2</text></g>
<g id="n-INS" class="y"><ellipse cx="2022" cy="1656" rx="239" ry="78"/><text x="2022" y="1686">INS</text></g>
<g id="n-ADRB2" class="n"><ellipse cx="780" cy="1778" rx="239" ry="78"/><text x="780" y="1808">ADRB2</text></g>
<g id="n-GPX3" class="n"><ellipse cx="1394" cy="1766" rx="239" ry="78"/><text x="1394" y="1796">GPX3</text></g>
<g id="n-IGF2BP2" class="n"><ellipse cx="2509" cy="1801" rx="239" ry="78"/><text x="2509" y="1831">IGF2BP2</text></g>
<g id="n-IGFALS" class="n"><ellipse cx="2128" cy="1911" rx="239" ry="78"/><text x="2128" y="1941">IGFALS</text></g>
<g id="n-KCNJ11" class="n"><ellipse cx="1608" cy="1964" rx="239" ry="78"/><text x="1608" y="1994">KCNJ11</text></g>
<g id="n-PTPN11" class="n"><ellipse cx="1120" cy="2077" rx="239" ry="78"/><text x="1120" y="2107">PTPN11</text></g>
</svg>
